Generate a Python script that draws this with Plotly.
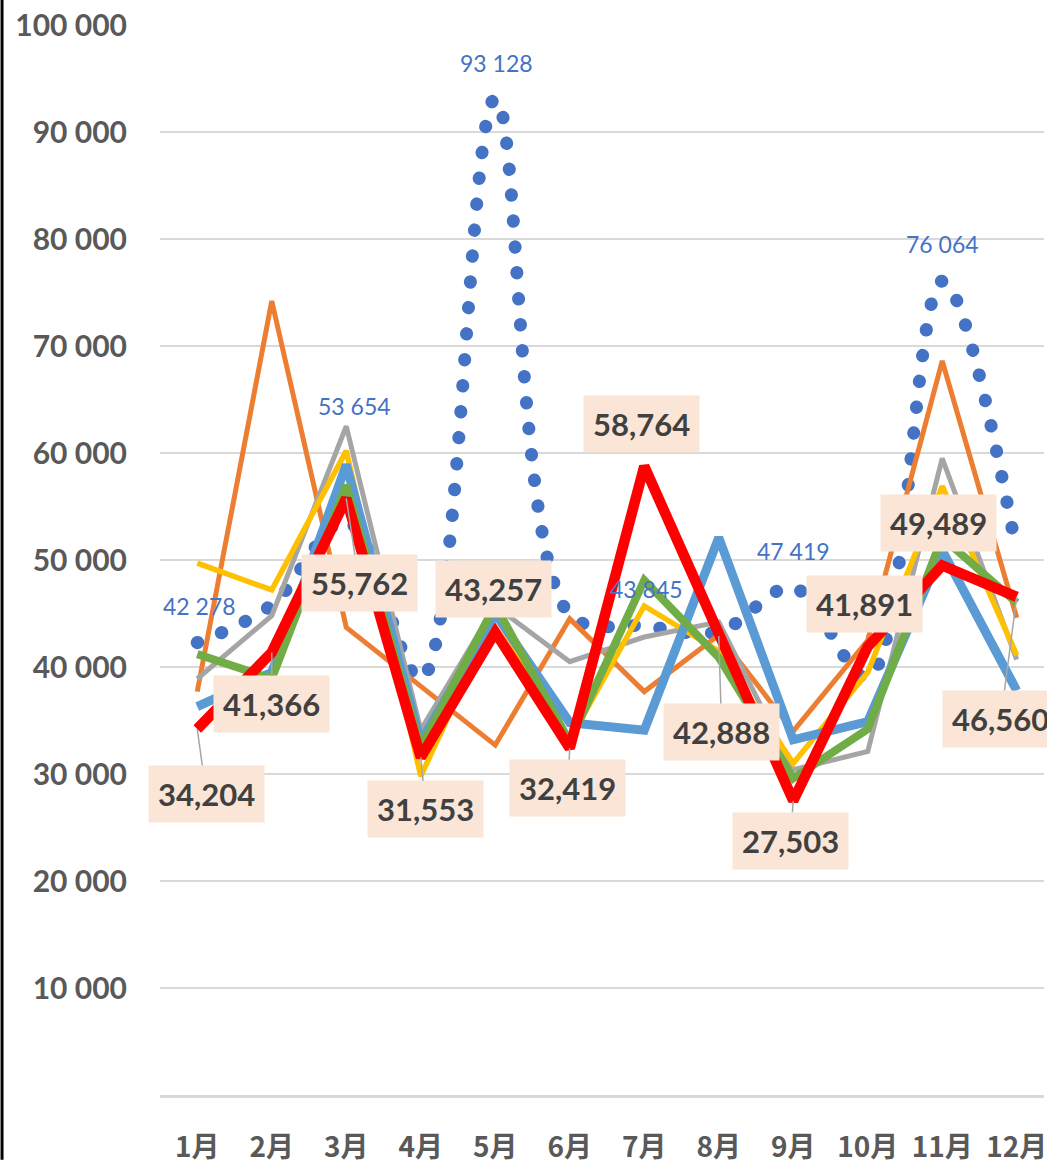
import plotly.graph_objects as go

months = ["1月", "2月", "3月", "4月", "5月", "6月", "7月", "8月", "9月", "10月", "11月", "12月"]

dotted_blue = [42278, 45800, 53654, 38900, 93128, 44900, 43845, 43300, 47419, 39000, 76064, 50700]
orange = [37700, 74200, 43700, 38200, 32700, 44500, 37700, 43000, 34000, 42500, 68600, 44600]
gray = [38900, 44800, 62500, 34100, 45700, 40500, 42800, 44200, 30400, 32100, 59500, 40700]
yellow = [49700, 47200, 60200, 29800, 44800, 33200, 45700, 41500, 31000, 39500, 56900, 41100]
light_blue = [36300, 39500, 58900, 33000, 45000, 34800, 34100, 52100, 33200, 34900, 50900, 37800]
green = [41200, 38900, 57000, 32500, 45800, 33000, 48100, 40900, 29600, 34200, 52100, 46000]
red = [34204, 41366, 55762, 31553, 43257, 32419, 58764, 42888, 27503, 41891, 49489, 46560]

# indices of the dotted-series points that carry a label
dotted_labelled = [0, 2, 4, 6, 8, 10]

y_tickvals = [10000, 20000, 30000, 40000, 50000, 60000, 70000, 80000, 90000, 100000]
y_ticktext = ["10 000", "20 000", "30 000", "40 000", "50 000", "60 000", "70 000", "80 000", "90 000", "100 000"]

# label placement (pixel offsets of box centre from point)
red_label_dx = [9, 0, 13, 5, -2, -2, -3, 3, -3, -3, -4, -16]
red_label_dy = [65, 52, 85, 52, -43, 40, -42, 96, 40, -43, -42, 122]
red_leader = [True, True, True, True, False, True, False, True, True, False, False, True]
dotted_label_dx = [2, 8, 1, 2, 0, 0]
dotted_label_dy = [37, 115, 36, 37, 37, 37]

fig = go.Figure()

fig.add_trace(go.Scatter(x=months, y=dotted_blue, mode="lines",
                         line=dict(color="#4472C4", width=13, dash="0.5px,25.5px", shape="spline", smoothing=1.0),
                         showlegend=False, hoverinfo="skip"))
series = [
    (orange, "#ED7D31", 5),
    (gray, "#A5A5A5", 5),
    (yellow, "#FFC000", 5.5),
    (light_blue, "#5B9BD5", 9),
    (green, "#70AD47", 8),
    (red, "#FF0000", 10.5),
]
for vals, col, w in series:
    fig.add_trace(go.Scatter(x=months, y=vals, mode="lines",
                             line=dict(color=col, width=w),
                             showlegend=False, hoverinfo="skip"))

annotations = []
for j, i in enumerate(dotted_labelled):
    v = dotted_blue[i]
    txt = f"{v:,}".replace(",", " ")
    annotations.append(dict(x=months[i], y=v, text=txt, showarrow=False,
                            xshift=dotted_label_dx[j], yshift=dotted_label_dy[j],
                            font=dict(family="Lato", size=23, color="#4472C4")))
for i, v in enumerate(red):
    annotations.append(dict(x=months[i], y=v, text=f"{v:,}", showarrow=True,
                            ax=red_label_dx[i], ay=red_label_dy[i], axref="pixel", ayref="pixel",
                            arrowhead=0, arrowwidth=1.5, standoff=0,
                            arrowcolor="#A6A6A6" if red_leader[i] else "rgba(0,0,0,0)",
                            bgcolor="#FBE5D6", borderpad=9,
                            font=dict(family="Lato", size=31, color="#404040", weight="bold")))

fig.update_layout(
    width=1047, height=1165,
    margin=dict(l=160, r=0, t=25, b=65),
    paper_bgcolor="white", plot_bgcolor="white",
    annotations=annotations,
    xaxis=dict(range=[-0.5, 11.366], showgrid=False, showline=True, linecolor="#D9D9D9", linewidth=2.5,
               ticks="", tickfont=dict(family="Noto Sans CJK JP", size=28, color="#595959", weight="bold"),
               ticklabelstandoff=26, fixedrange=True),
    yaxis=dict(range=[0, 100000], tickvals=y_tickvals, ticktext=y_ticktext, showgrid=True,
               gridcolor="#D9D9D9", gridwidth=2, zeroline=False, ticks="",
               tickfont=dict(family="Lato", size=30, color="#595959", weight="bold"),
               ticklabelstandoff=32, fixedrange=True),
    shapes=[dict(type="line", xref="paper", yref="paper",
                 x0=(1.5 - 160) / 887, x1=(1.5 - 160) / 887, y0=-65 / 1075, y1=1 + 25 / 1075,
                 line=dict(color="black", width=3))],
)

post = (
    "document.body.style.margin='0';document.body.style.overflow='hidden';"
    "var gd=document.getElementById('{plot_id}');"
    "function rc(){var t=gd.querySelectorAll('.scatterlayer .trace');"
    "if(t.length){var p=t[0].querySelector('path.js-line');if(p){p.style.strokeLinecap='round';}}}"
    "rc();gd.on('plotly_afterplot',rc);"
)
fig.write_html("out.html", config={"displayModeBar": False}, post_script=post)
